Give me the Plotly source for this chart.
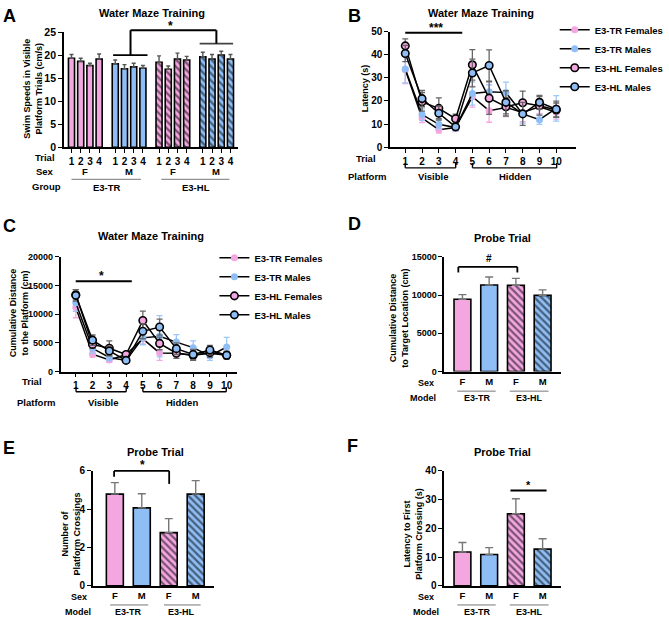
import plotly.graph_objects as go

W, H = 669, 624
def px(x): return x / W
def py(y): return 1 - y / H

FONT = "Liberation Sans, Arial, sans-serif"
PINK = "#F4A6E1"
BLUE = "#8EBEF5"
PINK_ERR = "#F5A8E2"
BLUE_ERR = "#9CC7F7"
GRAY = "#555555"

# ---------------- Panel A data ----------------
a_trial_labels = ["1", "2", "3", "4"]
a_sex_labels = ["F", "M", "F", "M"]
a_tr_f = [19.4, 18.7, 17.8, 19.2]
a_tr_f_err = [0.8, 0.7, 0.5, 1.1]
a_tr_m = [18.2, 17.1, 17.5, 17.2]
a_tr_m_err = [0.8, 0.9, 0.8, 0.6]
a_hl_f = [18.5, 17.0, 19.2, 19.0]
a_hl_f_err = [1.4, 0.7, 1.3, 0.8]
a_hl_m = [19.7, 19.2, 20.1, 19.2]
a_hl_m_err = [1.0, 1.0, 0.8, 1.0]

# ---------------- Panel B data (latency, s) ----------------
trials = [1, 2, 3, 4, 5, 6, 7, 8, 9, 10]
b_tr_f = [33.5, 12.6, 7.6, 8.5, 21.8, 15.8, 17.2, 15.0, 17.5, 15.1]
b_tr_f_err = [6.0, 2.0, 1.5, 1.5, 4.5, 5.0, 4.0, 4.0, 3.0, 3.0]
b_tr_m = [33.8, 14.1, 9.9, 8.5, 23.2, 24.0, 23.6, 14.4, 11.9, 16.8]
b_tr_m_err = [6.0, 2.5, 2.0, 1.5, 5.0, 3.0, 4.5, 4.0, 2.0, 5.5]
b_hl_f = [43.8, 19.6, 16.8, 12.3, 35.6, 21.2, 17.5, 19.2, 17.9, 16.1]
b_hl_f_err = [3.0, 4.0, 4.5, 2.0, 6.6, 7.0, 4.0, 5.0, 4.0, 3.0]
b_hl_m = [40.5, 21.0, 14.7, 8.8, 32.1, 35.3, 19.4, 14.4, 19.4, 16.4]
b_hl_m_err = [3.5, 3.5, 3.0, 1.5, 6.0, 6.8, 5.0, 5.0, 3.0, 3.5]

# ---------------- Panel C data (cumulative distance, cm) ----------------
c_tr_f = [11170, 3020, 2000, 2960, 5700, 3250, 3190, 2850, 3190, 2850]
c_tr_f_err = [1800, 500, 400, 400, 900, 1300, 900, 800, 800, 600]
c_tr_m = [11970, 4050, 2450, 1940, 5870, 6150, 5130, 4160, 2740, 4270]
c_tr_m_err = [1500, 900, 600, 400, 1200, 3600, 1300, 1200, 800, 1700]
c_hl_f = [13390, 4730, 4050, 2960, 8890, 4900, 3190, 2850, 3300, 2850]
c_hl_f_err = [900, 700, 1300, 500, 1650, 1100, 900, 900, 800, 700]
c_hl_m = [13280, 5470, 3590, 1940, 7010, 7750, 3990, 2960, 3760, 2850]
c_hl_m_err = [1000, 900, 800, 300, 1300, 1400, 1000, 900, 800, 600]

# ---------------- Probe trial data ----------------
probe_sex = ["F", "M", "F", "M"]
d_vals = [9450, 11320, 11280, 9960]
d_err = [600, 1030, 900, 720]
e_vals = [4.79, 4.07, 2.78, 4.79]
e_err = [0.60, 0.74, 0.73, 0.70]
f_vals = [11.8, 10.9, 25.1, 12.8]
f_err = [3.3, 2.4, 5.2, 3.6]

fig = go.Figure()

def bar_marker(color, hatched):
    m = dict(color=color, line=dict(color="black", width=1.6))
    if hatched:
        m["pattern"] = dict(shape="\\", fgcolor="black", bgcolor=color,
                            size=5, solidity=0.45)
    return m

# ---------- Panel A bars ----------
a_series = [(a_tr_f, a_tr_f_err, PINK, False), (a_tr_m, a_tr_m_err, BLUE, False),
            (a_hl_f, a_hl_f_err, PINK, True), (a_hl_m, a_hl_m_err, BLUE, True)]
a_tickvals, a_ticktext = [], []
for g, (vals, err, col, hat) in enumerate(a_series):
    xs = [g * 4.75 + t for t in range(len(vals))]
    a_tickvals += xs
    a_ticktext += a_trial_labels
    fig.add_trace(go.Bar(x=xs, y=vals, width=0.66, marker=bar_marker(col, hat),
                         error_y=dict(type="data", array=err, arrayminus=[0]*len(err),
                                      symmetric=False, color=GRAY, thickness=1.4, width=2),
                         xaxis="x", yaxis="y", showlegend=False))

# ---------- Panels B and C lines ----------
def add_lines(series, xa, ya, leg, names, show):
    for (vals, err), (name, col, ecol, ring) in zip(series, names):
        fig.add_trace(go.Scatter(
            x=trials, y=vals, mode="lines+markers", name=name,
            line=dict(color="black", width=1.5),
            marker=dict(size=7.5 if ring else 7, color=col,
                        line=dict(color="black" if ring else col, width=1.6 if ring else 0)),
            error_y=dict(type="data", array=err, color=ecol, thickness=1.3, width=3),
            xaxis=xa, yaxis=ya, legend=leg, showlegend=show))

names = [("E3-TR Females", PINK, PINK_ERR, False),
         ("E3-TR Males", BLUE, BLUE_ERR, False),
         ("E3-HL Females", PINK, "#666666", True),
         ("E3-HL Males", BLUE, "#666666", True)]
add_lines([(b_tr_f, b_tr_f_err), (b_tr_m, b_tr_m_err), (b_hl_f, b_hl_f_err), (b_hl_m, b_hl_m_err)],
          "x2", "y2", "legend", names, True)
add_lines([(c_tr_f, c_tr_f_err), (c_tr_m, c_tr_m_err), (c_hl_f, c_hl_f_err), (c_hl_m, c_hl_m_err)],
          "x3", "y3", "legend2", names, True)

# ---------- Probe bars D, E, F ----------
probe_cols = [PINK, BLUE, PINK, BLUE]
probe_hatch = [False, False, True, True]
for vals, err, xa, ya in [(d_vals, d_err, "x4", "y4"), (e_vals, e_err, "x5", "y5"),
                          (f_vals, f_err, "x6", "y6")]:
    for i in range(4):
        fig.add_trace(go.Bar(x=[i], y=[vals[i]], width=0.63,
                             marker=bar_marker(probe_cols[i], probe_hatch[i]),
                             error_y=dict(type="data", array=[err[i]], arrayminus=[0],
                                          symmetric=False, color="#777777", thickness=1.4, width=4),
                             xaxis=xa, yaxis=ya, showlegend=False))

# ---------- axes ----------
def tf(size):
    return dict(family=FONT, size=size, color="black", weight="bold")
def yax(dom, rng, dtick, fs=10):
    return dict(domain=[py(dom[1]), py(dom[0])], range=rng, dtick=dtick, showgrid=False,
                zeroline=False, showline=True, linecolor="black", linewidth=1.6,
                ticks="outside", ticklen=4, tickwidth=1.4, tickcolor="black",
                tickformat="d", tickfont=tf(fs), fixedrange=True)
def xax(dom, rng, anchor, tickvals, ticktext, ticks=True, fs=10):
    return dict(domain=[px(dom[0]), px(dom[1])], range=rng, anchor=anchor, showgrid=False,
                zeroline=False, showline=True, linecolor="black", linewidth=1.6,
                ticks="outside" if ticks else "", ticklen=4, tickwidth=1.4, tickcolor="black",
                tickvals=tickvals, ticktext=ticktext, tickfont=tf(fs), tickangle=0,
                fixedrange=True)

a_range = [-0.82, 3 * 4.75 + 3 + 0.82]
layout_axes = dict(
    xaxis=xax([65, 242], a_range, "y", a_tickvals, a_ticktext),
    yaxis=yax([27, 144], [0, 25], 5, fs=10.5),
    xaxis2=xax([396.7, 586], [0.1, 11.2], "y2", trials, [str(t) for t in trials]),
    yaxis2=yax([26, 144], [0, 50], 10),
    xaxis3=xax([61.7, 240.7], [0.1, 10.6], "y3", trials, [str(t) for t in trials]),
    yaxis3=yax([255.7, 372.7], [0, 20000], 5000, fs=9),
    xaxis4=xax([451.7, 570.7], [-0.68, 3.7], "y4", [0, 1, 2, 3], probe_sex, ticks=False, fs=9.5),
    yaxis4=yax([255.7, 372.7], [0, 15000], 5000, fs=9),
    xaxis5=xax([94.3, 217.3], [-0.82, 3.67], "y5", [0, 1, 2, 3], probe_sex, ticks=False, fs=9.5),
    yaxis5=yax([474, 591.3], [0, 6], 2),
    xaxis6=xax([451.7, 570.7], [-0.68, 3.7], "y6", [0, 1, 2, 3], probe_sex, ticks=False, fs=9.5),
    yaxis6=yax([474, 591.3], [0, 40], 10),
)
for k in ["yaxis", "yaxis2", "yaxis3", "yaxis4", "yaxis5", "yaxis6"]:
    n = k[5:]
    layout_axes[k]["anchor"] = "x" + n

annotations = []
def ann(text, x, y, size=9.5, angle=0, xanchor="center"):
    annotations.append(dict(text=text, x=px(x), y=py(y), xref="paper", yref="paper",
                            showarrow=False, xanchor=xanchor, yanchor="middle",
                            textangle=angle, font=tf(size)))

# panel letters
for L, x, y in [("A", 9.5, 10.5), ("B", 360, 10), ("C", 9.5, 224), ("D", 360, 222),
                ("E", 9, 451), ("F", 358.5, 449)]:
    ann(L, x, y, size=18)
# titles
ann("Water Maze Training", 155, 7, size=11)
ann("Water Maze Training", 489, 7, size=11)
ann("Water Maze Training", 154, 235, size=11)
ann("Probe Trial", 511, 237, size=11)
ann("Probe Trial", 158, 455, size=11)
ann("Probe Trial", 511, 455, size=11)
# y titles
ann("Swim Speeds in Visible<br>Platform Trials (cm/s)", 33.8, 84, size=9, angle=-90)
ann("Latency (s)", 372, 84, size=9, angle=-90)
ann("Cumulative Distance<br>to the Platform (cm)", 19.5, 313, size=9, angle=-90)
ann("Cumulative Distance<br>to Target Location (cm)", 405.5, 318, size=9, angle=-90)
ann("Number of<br>Platform Crossings", 72, 538, size=9, angle=-90)
ann("Latency to First<br>Platform Crossing (s)", 420, 538, size=9, angle=-90)
# row labels A
ann("Trial", 46, 154)
ann("Sex", 46, 169)
ann("Group", 47, 184)
for lab, x in zip(a_sex_labels, [86.7, 131.5, 176, 220]):
    ann(lab, x, 169)
ann("E3-TR", 109, 185)
ann("E3-HL", 199, 185)
# row labels B
ann("Trial", 372, 155)
ann("Platform", 374, 174)
ann("Visible", 440, 174)
ann("Hidden", 524, 174)
# row labels C
ann("Trial", 33, 383)
ann("Platform", 37, 404)
ann("Visible", 105, 404)
ann("Hidden", 185, 404)
# rows D
ann("Sex", 433, 384, size=9)
ann("Model", 430, 400, size=9)
ann("E3-TR", 485, 400, size=9)
ann("E3-HL", 538, 400, size=9)
# rows E
ann("Sex", 80, 603, size=9)
ann("Model", 79, 618, size=9)
ann("E3-TR", 131, 618, size=9)
ann("E3-HL", 185, 618, size=9)
# rows F
ann("Sex", 433, 603, size=9)
ann("Model", 433, 618, size=9)
ann("E3-TR", 485, 618, size=9)
ann("E3-HL", 538, 618, size=9)
# significance marks
ann("*", 173, 20, size=12)
ann("***", 443, 22, size=12)
ann("*", 103, 275, size=12)
ann("#", 497, 257, size=10)
ann("*", 145, 468, size=12)
ann("*", 537, 488, size=11)

shapes = []
def seg(x0, y0, x1, y1, color="black", width=2):
    shapes.append(dict(type="line", xref="paper", yref="paper", x0=px(x0), y0=py(y0),
                       x1=px(x1), y1=py(y1), line=dict(color=color, width=width)))

# A significance bracket
seg(115, 50, 150, 50, width=1.8)
seg(203, 38.3, 237, 38.3, color="#444444", width=1.8)
seg(132.7, 24.7, 220, 24.7, width=2)
seg(132.7, 24.7, 132.7, 50, width=2)
seg(220, 24.7, 220, 38.3, width=2)
# A group underlines
seg(72.7, 176.7, 143.3, 176.7, color="#777777", width=1)
seg(164, 176.7, 233.3, 176.7, color="#777777", width=1)
# B
seg(412, 27.3, 470, 27.3, width=2)
for (x0, x1) in [(412, 463.3), (480.4, 566)]:
    seg(x0, 165, x1, 165, width=1.4)
    seg(x0, 165, x0, 160, width=1.4)
    seg(x1, 165, x1, 160, width=1.4)
# C
seg(77, 280.7, 134, 280.7, width=2)
for (x0, x1) in [(77.3, 128.3), (145.3, 230)]:
    seg(x0, 393.3, x1, 393.3, width=1.4)
    seg(x0, 393.3, x0, 388.5, width=1.4)
    seg(x1, 393.3, x1, 388.5, width=1.4)
# D
seg(466, 266, 526, 266, width=1.8)
seg(466, 266, 466, 271.7, width=1.8)
seg(526, 266, 526, 271.7, width=1.8)
seg(465, 392.7, 504, 392.7, color="#777777", width=1)
seg(518.3, 392.7, 557.7, 392.7, color="#777777", width=1)
# E
seg(116, 474, 172, 474, width=1.8)
seg(116, 474, 116, 480, width=1.8)
seg(172, 474, 172, 487.3, width=1.8)
seg(112, 610.7, 150.7, 610.7, color="#777777", width=1)
seg(166.7, 610.7, 204, 610.7, color="#777777", width=1)
# F
seg(519, 494, 555.7, 494, width=1.8)
seg(465, 610.7, 504, 610.7, color="#777777", width=1)
seg(518.3, 610.7, 557.7, 610.7, color="#777777", width=1)

legfont = tf(9.5)
fig.update_layout(
    width=W, height=H, margin=dict(l=0, r=0, t=0, b=0),
    paper_bgcolor="white", plot_bgcolor="white", barmode="overlay",
    showlegend=True,
    legend=dict(x=px(564), y=py(9.5), xanchor="left", yanchor="top", font=legfont,
                bgcolor="rgba(0,0,0,0)", itemwidth=30, tracegroupgap=0),
    legend2=dict(x=px(218), y=py(242), xanchor="left", yanchor="top", font=legfont,
                 bgcolor="rgba(0,0,0,0)", itemwidth=30, tracegroupgap=0),
    annotations=annotations, shapes=shapes,
    **layout_axes,
)
fig.write_html("out.html", config={"displayModeBar": False},
               post_script="document.body.style.margin='0px';document.body.style.padding='0px';")
